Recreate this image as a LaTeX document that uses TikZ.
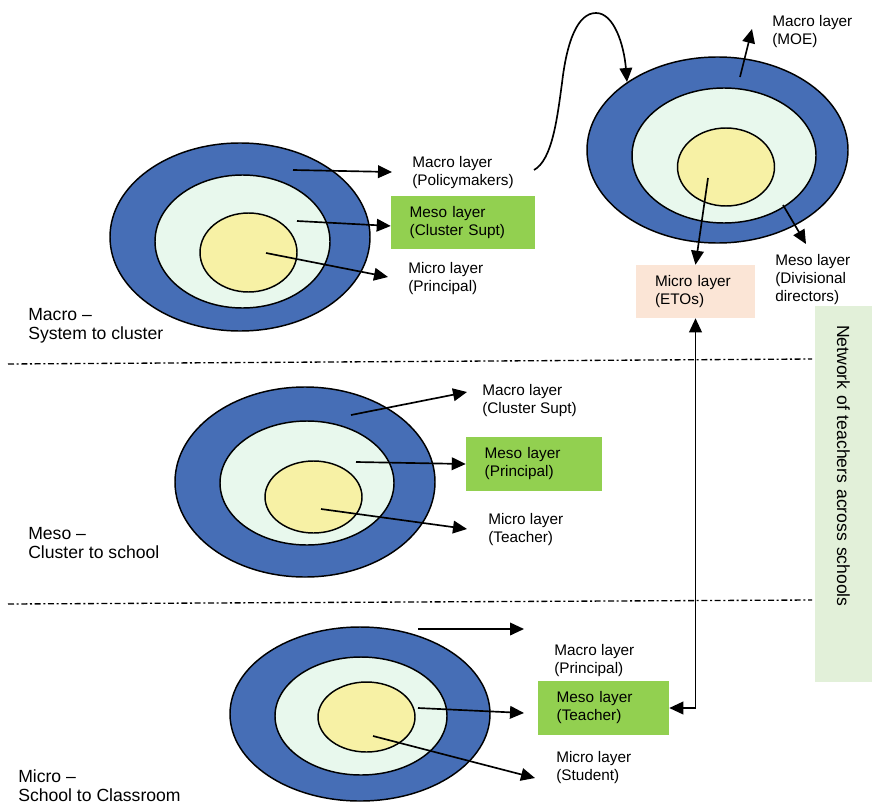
\documentclass[tikz,border=0pt]{standalone}
\usepackage{fontspec}
\setmainfont{Liberation Sans}
\usetikzlibrary{shapes.geometric,arrows.meta}
\definecolor{outerblue}{RGB}{70,110,182}
\definecolor{mint}{RGB}{232,248,237}
\definecolor{core}{RGB}{247,241,165}
\definecolor{mesogreen}{RGB}{146,208,80}
\definecolor{peach}{RGB}{251,229,214}
\definecolor{netgreen}{RGB}{226,240,217}
\begin{document}
\begin{tikzpicture}[x=0.75pt,y=-0.75pt,
  ring/.style={ellipse,draw,line width=1.1pt,inner sep=0pt},
  outerring/.style={ring,fill=outerblue},
  midring/.style={ring,fill=mint},
  innerring/.style={ring,fill=core},
  lbl/.style={anchor=west,align=left,inner sep=0pt,font=\fontsize{11.5}{13.5}\selectfont},
  level/.style={anchor=west,align=left,inner sep=0pt,font=\fontsize{13.2}{14.25}\selectfont},
  layerbox/.style={align=left,inner xsep=14pt,inner ysep=0pt,font=\fontsize{11.5}{13.5}\selectfont},
  link/.style={line width=1.25pt,-{Triangle[length=10.5pt,width=9.5pt]}},
  twoway/.style={line width=1.25pt,{Triangle[length=10.5pt,width=9.5pt]}-{Triangle[length=10.5pt,width=9.5pt]}},
  divider/.style={line width=1pt,dash pattern=on 4.5pt off 2pt on 1.5pt off 2pt}
]
\useasboundingbox (0,0) rectangle (873,806);

% ---------- level dividers ----------
\coordinate (cutAL) at (8,364);
\coordinate (cutAR) at (812,359);
\coordinate (cutBL) at (8,604);
\coordinate (cutBR) at (812,600);
\draw[divider] (cutAL) -- (cutAR);
\draw[divider] (cutBL) -- (cutBR);

% ---------- network band ----------
\node[rotate=-90,fill=netgreen,minimum width=282pt,minimum height=42.75pt,
      text width=253.5pt,inner xsep=14.25pt,align=left,
      font=\fontsize{13.2}{14.25}\selectfont] (network) at (843.5,494)
      {Network of teachers across schools};

% ---------- level captions ----------
\node[level] (capMacro) at (28,325.4) {Macro –\\System to cluster};
\node[level] (capMeso) at (28,543.4) {Meso –\\Cluster to school};
\node[level] (capMicro) at (18,786) {Micro –\\School to Classroom};

% ---------- system to cluster ----------
\node[outerring,minimum width=195pt,minimum height=141pt] (sysOuter) at (240,237) {};
\node[midring,minimum width=131.25pt,minimum height=99.75pt] (sysMid) at (242.5,241.5) {};
\node[innerring,minimum width=72.75pt,minimum height=59.25pt] (sysCore) at (248.5,252.5) {};
\node[lbl] (sysMacro) at (412,172.5) {Macro layer\\(Policymakers)};
\node[layerbox,fill=mesogreen,minimum width=108pt,text width=80pt,minimum height=39.75pt] (sysMeso) at (463,222.5) {Meso layer\\(Cluster Supt)};
\node[lbl] (sysMicro) at (408,278.5) {Micro layer\\(Principal)};
\coordinate (sysA1) at (293,170);
\coordinate (sysA2) at (392,172);
\coordinate (sysB1) at (297,221);
\coordinate (sysC1) at (266,253);
\coordinate (sysC2) at (388,277);
\draw[link] (sysA1) -- (sysA2);
\draw[link] (sysB1) -- ([yshift=-2.6pt]sysMeso.west);
\draw[link] (sysC1) -- (sysC2);

% ---------- cluster to school ----------
\node[outerring,minimum width=195pt,minimum height=142.5pt] (cluOuter) at (305,482) {};
\node[midring,minimum width=130.5pt,minimum height=93pt] (cluMid) at (307,483) {};
\node[innerring,minimum width=72.75pt,minimum height=54pt] (cluCore) at (313.5,497) {};
\node[lbl] (cluMacro) at (482,401) {Macro layer\\(Cluster Supt)};
\node[layerbox,fill=mesogreen,minimum width=102pt,text width=74pt,minimum height=40.5pt] (cluMeso) at (534,464) {Meso layer\\(Principal)};
\node[lbl] (cluMicro) at (488,529.5) {Micro layer\\(Teacher)};
\coordinate (cluA1) at (351,415);
\coordinate (cluA2) at (467,392);
\coordinate (cluB1) at (356,462);
\coordinate (cluC1) at (321,509);
\coordinate (cluC2) at (467,529);
\draw[link] (cluA1) -- (cluA2);
\draw[link] (cluB1) -- (cluMeso.west);
\draw[link] (cluC1) -- (cluC2);

% ---------- school to classroom ----------
\node[outerring,minimum width=195pt,minimum height=130.5pt] (schOuter) at (360,714) {};
\node[midring,minimum width=129pt,minimum height=88.5pt] (schMid) at (361,716) {};
\node[innerring,minimum width=72.75pt,minimum height=52.5pt] (schCore) at (366.5,717) {};
\node[lbl] (schMacro) at (554,661) {Macro layer\\(Principal)};
\node[layerbox,fill=mesogreen,minimum width=98.25pt,text width=70.25pt,minimum height=40.5pt] (schMeso) at (603.5,708) {Meso layer\\(Teacher)};
\node[lbl] (schMicro) at (556,767.5) {Micro layer\\(Student)};
\coordinate (schA1) at (418,629);
\coordinate (schA2) at (524,629);
\coordinate (schB1) at (418,708);
\coordinate (schB2) at (524,713);
\coordinate (schC1) at (373,736);
\coordinate (schC2) at (535,778);
\draw[link] (schA1) -- (schA2);
\draw[link] (schB1) -- (schB2);
\draw[link] (schC1) -- (schC2);

% ---------- ministry level ----------
\node[outerring,minimum width=195.75pt,minimum height=139.5pt] (moeOuter) at (717.5,150) {};
\node[midring,minimum width=138pt,minimum height=101.25pt] (moeMid) at (724,155.5) {};
\node[innerring,minimum width=72.75pt,minimum height=58.5pt] (moeCore) at (726,167) {};
\node[lbl] (moeMacro) at (772,31.5) {Macro layer\\(MOE)};
\node[lbl] (moeMeso) at (775,279.6) {Meso layer\\(Divisional\\directors)};
\node[layerbox,fill=peach,minimum width=89.25pt,text width=60.75pt,inner xsep=14.25pt,minimum height=39.75pt] (etos) at (695.5,291.5) {Micro layer\\(ETOs)};
\coordinate (moeA1) at (740,77);
\coordinate (moeA2) at (752,29);
\coordinate (moeB1) at (783,205);
\coordinate (moeB2) at (806,244);
\coordinate (moeC1) at (708,178);
\draw[link] (moeA1) -- (moeA2);
\draw[link] (moeB1) -- (moeB2);
\draw[link] (moeC1) -- (etos.north);

% ---------- links between levels ----------
\coordinate (loopS) at (534,170);
\coordinate (loopE) at (627,82);
\draw[link] (loopS) .. controls (552,160) and (557,120) .. (562,83)
  .. controls (567,40) and (578,13) .. (596,13)
  .. controls (614,13) and (624,45) .. (loopE);
\draw[twoway] (etos.south) |- (schMeso.east);
\end{tikzpicture}
\end{document}
